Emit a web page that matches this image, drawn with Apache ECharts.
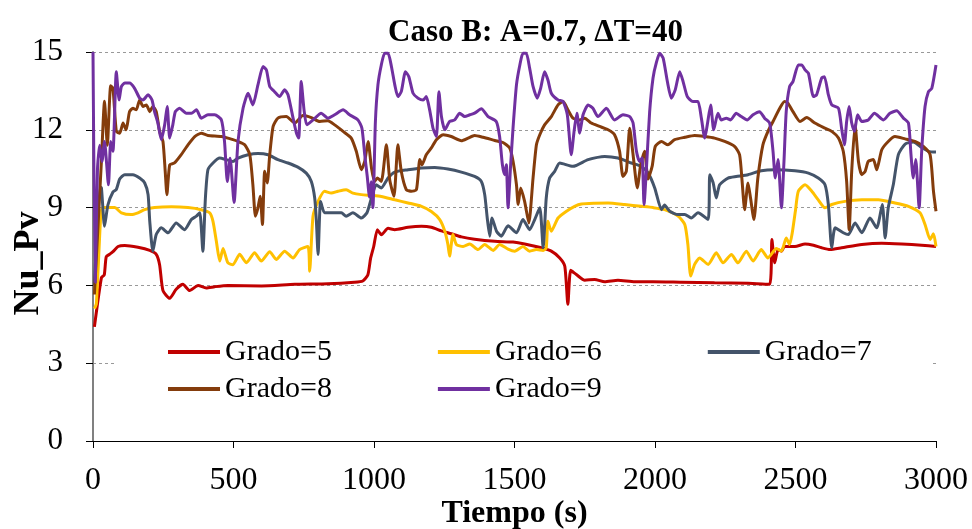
<!DOCTYPE html>
<html>
<head>
<meta charset="utf-8">
<script src="https://cdn.jsdelivr.net/npm/echarts@6/dist/echarts.min.js"></script>
<style>html,body{margin:0;padding:0;background:#fff}#c{width:972px;height:529px}</style>
</head>
<body>
<div id="c"></div>
<script>
const seriesNames = ['Grado=5','Grado=6','Grado=7','Grado=8','Grado=9'];
const xTicks = [0,500,1000,1500,2000,2500,3000];
const yTicks = [0,3,6,9,12,15];

const grado5 = [[5,4.4],[30,6.3],[40,6.4],[47,7.1],[59,7.2],[71,7.3],[89,7.5],[113,7.54],[160,7.47],[202,7.35],[225,7.2],[237,6.8],[249,5.8],[273,5.5],[296,5.85],[320,6.04],[344,5.8],[374,6.0],[403,5.9],[433,5.95],[480,6.0],[600,5.98],[718,6.04],[836,6.06],[930,6.12],[960,6.17],[978,6.4],[988,7.05],[999,7.5],[1012,8.15],[1026,7.95],[1050,8.2],[1074,8.15],[1121,8.24],[1169,8.28],[1204,8.24],[1240,8.1],[1275,7.99],[1311,7.87],[1358,7.78],[1430,7.7],[1495,7.67],[1536,7.6],[1596,7.45],[1631,7.32],[1661,7.06],[1679,6.74],[1690,5.27],[1700,6.58],[1720,6.42],[1750,6.2],[1785,6.23],[1821,6.14],[1868,6.2],[1928,6.14],[1993,6.14],[2094,6.12],[2212,6.1],[2331,6.08],[2408,6.04],[2416,7.77],[2426,6.87],[2438,7.38],[2450,7.32],[2461,7.5],[2498,7.5],[2534,7.6],[2564,7.55],[2593,7.45],[2623,7.38],[2664,7.45],[2736,7.58],[2807,7.63],[2878,7.6],[2949,7.55],[3000,7.5]];

const grado6 = [[5,5.1],[12,5.3],[28,8.8],[35,9.0],[53,9.0],[77,9.0],[101,8.8],[136,8.73],[160,8.8],[184,8.92],[219,9.0],[279,9.03],[338,9.0],[385,8.92],[415,8.8],[427,8.47],[439,7.7],[451,6.94],[463,7.42],[480,6.87],[498,6.8],[522,7.2],[546,6.87],[575,7.26],[599,6.94],[629,7.3],[652,7.0],[682,7.32],[712,7.06],[735,7.38],[765,7.5],[771,6.55],[783,8.67],[801,9.24],[824,9.63],[848,9.56],[872,9.63],[901,9.69],[925,9.56],[955,9.5],[990,9.47],[1026,9.43],[1074,9.3],[1121,9.18],[1169,9.05],[1204,8.85],[1234,8.54],[1252,8.09],[1263,7.58],[1269,7.13],[1281,7.96],[1293,7.58],[1317,7.5],[1341,7.6],[1370,7.38],[1394,7.58],[1424,7.35],[1447,7.58],[1477,7.4],[1501,7.32],[1530,7.5],[1554,7.32],[1578,7.38],[1602,7.35],[1613,7.45],[1619,8.47],[1631,8.09],[1655,8.6],[1685,8.86],[1714,9.05],[1738,9.14],[1785,9.17],[1833,9.18],[1892,9.12],[1951,9.05],[1993,9.0],[2034,8.92],[2082,8.67],[2106,8.35],[2117,7.58],[2127,6.36],[2141,6.81],[2159,7.06],[2189,6.81],[2218,7.26],[2242,6.87],[2272,7.19],[2295,6.87],[2325,7.32],[2349,6.94],[2378,7.38],[2402,7.06],[2432,7.42],[2450,7.32],[2467,7.83],[2479,7.58],[2488,8.0],[2500,8.9],[2510,9.63],[2534,9.88],[2558,9.63],[2581,9.3],[2605,8.99],[2629,9.12],[2676,9.24],[2736,9.3],[2795,9.3],[2854,9.18],[2902,9.05],[2943,8.8],[2961,8.35],[2979,7.77],[2991,7.99],[3000,7.5]];

const grado7 = [[5,6.0],[25,9.8],[30,9.76],[41,8.28],[53,9.1],[71,9.6],[83,9.7],[95,10.1],[113,10.27],[142,10.27],[166,10.14],[184,9.95],[196,9.5],[202,8.47],[213,7.32],[225,7.96],[243,8.22],[267,8.03],[296,8.41],[326,8.15],[350,8.54],[368,8.67],[380,8.8],[391,7.32],[400,9.37],[409,10.46],[427,10.72],[451,10.91],[474,10.85],[498,10.78],[516,10.91],[552,11.04],[587,11.09],[623,11.04],[658,10.85],[694,10.72],[729,10.56],[759,10.33],[777,10.01],[789,9.37],[795,8.47],[801,7.19],[810,9.24],[824,8.8],[854,8.8],[884,8.8],[901,8.67],[925,8.8],[955,8.6],[975,8.8],[991,9.37],[1008,9.88],[1026,9.76],[1050,10.14],[1074,10.37],[1121,10.46],[1169,10.53],[1216,10.55],[1263,10.49],[1311,10.37],[1358,10.2],[1382,10.01],[1394,9.5],[1403,8.6],[1412,7.9],[1420,8.6],[1436,8.09],[1453,7.9],[1477,8.3],[1507,8.03],[1530,8.54],[1554,8.15],[1572,8.54],[1590,8.99],[1602,7.45],[1613,9.37],[1625,10.14],[1643,10.4],[1661,10.72],[1708,10.59],[1762,10.85],[1821,10.97],[1868,10.91],[1916,10.72],[1951,10.59],[1975,10.35],[1999,9.76],[2023,8.92],[2034,9.1],[2052,8.86],[2082,8.73],[2106,8.73],[2129,8.6],[2153,8.8],[2189,8.54],[2195,10.27],[2207,9.95],[2218,9.37],[2230,9.88],[2260,10.14],[2289,10.2],[2331,10.27],[2378,10.42],[2426,10.46],[2498,10.42],[2546,10.33],[2581,10.14],[2605,9.88],[2617,9.11],[2629,7.45],[2641,8.22],[2670,8.03],[2688,7.96],[2712,8.41],[2736,8.03],[2765,8.6],[2789,8.22],[2809,9.12],[2819,7.83],[2830,8.99],[2848,9.88],[2866,11.04],[2890,11.45],[2919,11.53],[2949,11.32],[2973,11.17],[3000,11.14]];

const grado8 = [[5,5.65],[30,10.8],[41,13.1],[51,11.4],[63,13.7],[71,13.6],[83,11.94],[95,11.87],[107,12.26],[118,12.0],[130,12.7],[142,12.83],[154,12.77],[166,13.15],[178,12.9],[190,12.96],[202,12.7],[213,12.9],[225,12.7],[237,11.94],[249,11.55],[257,10.4],[263,9.5],[273,10.65],[290,10.72],[314,11.04],[338,11.42],[362,11.74],[385,11.87],[409,11.78],[457,11.74],[498,11.62],[516,11.55],[540,11.42],[558,11.04],[569,9.88],[578,8.67],[587,8.99],[595,9.44],[603,8.35],[611,10.4],[620,9.95],[629,11.04],[641,12.13],[658,12.45],[688,12.51],[718,12.26],[747,12.55],[777,12.47],[807,12.32],[836,12.35],[860,12.19],[890,11.94],[919,11.68],[937,11.17],[955,10.46],[967,10.78],[979,11.55],[991,10.53],[1002,10.01],[1012,10.14],[1026,10.01],[1044,11.42],[1056,10.07],[1071,9.44],[1085,11.42],[1097,10.4],[1115,9.69],[1133,9.63],[1151,9.69],[1163,10.85],[1171,10.65],[1186,11.04],[1204,11.3],[1222,11.62],[1246,11.81],[1275,11.74],[1311,11.58],[1335,11.68],[1358,11.78],[1388,11.71],[1430,11.59],[1459,11.51],[1483,11.3],[1495,10.78],[1507,9.88],[1513,9.12],[1522,9.76],[1536,9.24],[1551,8.41],[1566,10.14],[1578,11.42],[1590,11.81],[1607,12.19],[1631,12.51],[1655,12.96],[1673,13.09],[1690,12.77],[1708,12.45],[1732,12.38],[1750,12.45],[1773,12.26],[1803,12.13],[1833,12.0],[1856,11.81],[1874,11.17],[1886,10.2],[1898,10.4],[1910,12.06],[1922,11.04],[1937,9.76],[1949,10.65],[1963,11.17],[1975,10.1],[1990,10.6],[2001,11.36],[2023,11.55],[2046,11.42],[2070,11.62],[2106,11.71],[2141,11.78],[2177,11.74],[2212,11.68],[2248,11.55],[2283,11.36],[2301,11.04],[2310,10.01],[2319,8.92],[2331,9.95],[2340,9.37],[2352,8.54],[2366,10.14],[2384,11.42],[2402,11.94],[2420,12.32],[2444,12.83],[2461,13.09],[2473,13.03],[2491,12.7],[2516,12.32],[2540,12.47],[2569,12.26],[2599,12.09],[2629,11.94],[2653,11.68],[2670,11.17],[2682,10.01],[2691,8.15],[2700,10.4],[2712,12.19],[2724,10.78],[2736,10.27],[2748,10.4],[2759,10.78],[2777,10.85],[2789,10.46],[2807,11.23],[2830,11.55],[2854,11.74],[2890,11.65],[2925,11.55],[2955,11.36],[2979,11.04],[2991,9.63],[3000,8.86]];

const grado9 = [[0,15],[8,6.1],[16,10.5],[24,11.4],[32,10.78],[41,11.55],[55,9.88],[63,11.55],[71,11.17],[83,14.24],[93,13.15],[101,13.67],[113,13.8],[130,13.8],[148,13.6],[166,13.22],[178,13.15],[196,13.35],[210,13.15],[219,12.7],[231,12.26],[243,11.62],[255,12.19],[264,12.9],[273,11.68],[284,12.19],[293,12.7],[308,12.83],[332,12.64],[350,12.64],[368,12.77],[385,12.45],[409,12.58],[433,12.58],[457,12.38],[468,11.55],[478,10.01],[488,10.9],[502,9.2],[516,11.55],[534,12.83],[552,13.41],[569,12.96],[587,13.73],[605,14.44],[617,14.31],[629,13.67],[646,13.47],[664,13.28],[682,13.54],[694,13.35],[712,12.45],[724,11.87],[732,11.68],[741,13.86],[751,12.77],[761,12.19],[783,12.38],[812,12.64],[836,12.45],[860,12.58],[890,12.77],[913,12.58],[943,12.38],[957,12.06],[967,11.04],[976,10.2],[984,9.4],[990,10.0],[996,9.0],[1005,12.32],[1014,13.73],[1026,14.5],[1038,14.95],[1050,14.95],[1062,14.44],[1074,13.73],[1085,13.28],[1097,13.47],[1112,14.24],[1124,14.05],[1139,13.41],[1157,13.22],[1175,13.15],[1186,13.28],[1198,12.77],[1210,12.06],[1222,11.74],[1231,13.47],[1240,12.51],[1252,12.0],[1269,12.32],[1287,12.38],[1305,12.64],[1323,12.51],[1341,12.58],[1358,12.64],[1382,12.81],[1406,12.51],[1435,12.32],[1447,11.74],[1457,10.65],[1465,10.27],[1471,10.65],[1477,8.99],[1486,10.6],[1495,12.1],[1507,13.73],[1519,14.5],[1530,14.95],[1542,14.95],[1554,14.37],[1566,13.67],[1581,13.22],[1593,13.6],[1607,14.24],[1619,13.92],[1631,13.41],[1655,13.15],[1673,13.09],[1688,12.58],[1702,11.04],[1712,11.94],[1722,12.64],[1732,11.87],[1744,12.58],[1762,12.96],[1779,12.83],[1797,12.51],[1827,12.83],[1856,12.38],[1886,12.58],[1910,12.51],[1922,12.26],[1934,11.17],[1945,10.78],[1954,10.91],[1961,9.12],[1969,10.4],[1981,12.7],[1993,14.0],[2005,14.6],[2017,14.95],[2029,14.76],[2044,13.86],[2058,13.22],[2072,13.54],[2088,14.24],[2100,13.86],[2115,13.28],[2135,13.09],[2153,13.09],[2165,12.45],[2177,11.68],[2186,12.19],[2198,12.96],[2209,12.0],[2224,12.64],[2236,12.38],[2254,12.45],[2269,12.38],[2289,12.64],[2307,12.51],[2328,12.38],[2349,12.58],[2372,12.7],[2390,12.45],[2408,12.26],[2420,11.17],[2428,10.14],[2438,10.85],[2450,8.99],[2459,10.78],[2467,12.7],[2479,13.67],[2491,13.86],[2510,14.5],[2522,14.5],[2534,14.31],[2546,14.18],[2564,13.28],[2575,13.35],[2593,13.99],[2603,14.05],[2617,13.35],[2629,12.96],[2653,12.83],[2664,12.06],[2674,11.42],[2682,12.32],[2691,12.9],[2700,12.26],[2710,11.94],[2721,12.58],[2736,12.32],[2759,12.38],[2781,12.64],[2813,12.38],[2836,12.64],[2860,12.73],[2884,12.45],[2902,12.26],[2911,11.04],[2919,10.14],[2928,10.85],[2940,8.99],[2949,11.17],[2961,12.9],[2973,13.47],[2985,13.6],[3000,14.5]];

const allData = [grado5, grado6, grado7, grado8, grado9];
const colors = ['#C00000','#FFC000','#44546A','#843C0C','#7030A0'];
const FONT = 'Liberation Serif';

const chart = echarts.init(document.getElementById('c'), null, {renderer:'canvas'});
const legendText = {fontFamily: FONT, fontSize: 30, color: '#000'};
chart.setOption({
  animation: false,
  backgroundColor: '#fff',
  textStyle: {fontFamily: FONT},
  title: {
    text: 'Caso B: A=0.7, \u0394T=40',
    left: 383, top: 12,
    textStyle: {fontFamily: FONT, fontSize: 31, fontWeight: 'bold', color: '#000'}
  },
  grid: {left: 93, right: 36, top: 52, bottom: 88, outerBoundsMode: 'none', containLabel: false},
  legend: [
    {data: seriesNames.slice(0,3), left: 168, top: 337, padding: 0, itemGap: 106, itemWidth: 52, itemHeight: 4, icon: 'rect', textStyle: legendText, selectedMode: false},
    {data: seriesNames.slice(3), left: 168, top: 374, padding: 0, itemGap: 106, itemWidth: 52, itemHeight: 4, icon: 'rect', textStyle: legendText, selectedMode: false}
  ],
  graphic: [{type: 'rect', z: 1, shape: {x: 115, y: 334, width: 815, height: 72}, style: {fill: '#fff'}}],
  xAxis: {
    type: 'value', min: xTicks[0], max: xTicks[xTicks.length-1], interval: 500,
    name: 'Tiempo (s)', nameLocation: 'middle', nameGap: 57, nameMoveOverlap: false,
    nameTextStyle: {fontFamily: FONT, fontSize: 32, fontWeight: 'bold', color: '#000'},
    axisLine: {lineStyle: {color: '#000', width: 1}},
    axisTick: {show: true, length: 7, lineStyle: {color: '#000'}},
    axisLabel: {fontFamily: FONT, fontSize: 32, color: '#000', margin: 24, formatter: v => String(v)},
    splitLine: {show: false}
  },
  yAxis: {
    type: 'value', min: yTicks[0], max: yTicks[yTicks.length-1], interval: 3,
    name: 'Nu_Pv', nameLocation: 'middle', nameGap: 46, nameMoveOverlap: false,
    nameTextStyle: {fontFamily: FONT, fontSize: 36, fontWeight: 'bold', color: '#000', padding: [0, 34, 0, 0]},
    axisLine: {show: true, lineStyle: {color: '#808080', width: 2}},
    axisTick: {show: true, length: 7, lineStyle: {color: '#000'}},
    axisLabel: {fontFamily: FONT, fontSize: 31, color: '#000', margin: 30, formatter: v => String(v)},
    splitLine: {show: true, lineStyle: {color: '#999', type: [3,3], width: 1}}
  },
  series: allData.map((d, i) => ({
    name: seriesNames[i], type: 'line', data: d, showSymbol: false, smooth: 0.2,
    color: colors[i], lineStyle: {color: colors[i], width: 3}, z: 2 + i
  }))
});
</script>
</body>
</html>
